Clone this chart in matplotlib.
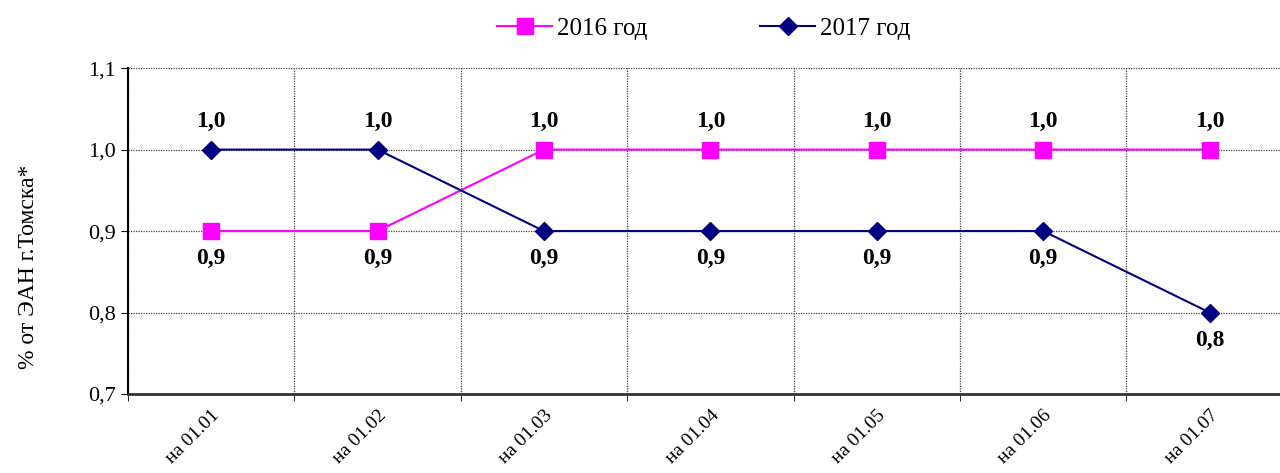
import numpy as np
import matplotlib.pyplot as plt

plt.rcParams['font.family'] = ['Liberation Serif', 'DejaVu Serif']

categories = ["на 01.01", "на 01.02", "на 01.03", "на 01.04", "на 01.05", "на 01.06", "на 01.07"]
vals_2016 = [0.9, 0.9, 1.0, 1.0, 1.0, 1.0, 1.0]
vals_2017 = [1.0, 1.0, 0.9, 0.9, 0.9, 0.9, 0.8]
yticks = [0.7, 0.8, 0.9, 1.0, 1.1]

fig = plt.figure(figsize=(12.8, 4.73), dpi=100)
ax = fig.add_axes([0.1, 0.167, 0.910, 0.689])

x = np.arange(len(categories))
ax.plot(x, vals_2016, color="#FF00FF", marker="s", markersize=11, lw=1.5,
        label="2016 год", zorder=3)
ax.plot(x, vals_2017, color="#000080", marker="D", markersize=9, lw=1.5,
        label="2017 год", zorder=3)

# data labels: above for the higher value, below otherwise
for xi, a, b in zip(x, vals_2016, vals_2017):
    for v, other in ((a, b), (b, a)):
        off = 20 if v >= other else -20
        ax.annotate(f"{v:.1f}".replace(".", ","), (xi, v), xytext=(0, off),
                    textcoords="offset points", ha="center", va="center",
                    fontsize=17, fontweight="bold")

ax.set_xlim(-0.5, len(categories) - 0.5)
ax.set_ylim(0.7, 1.1)
ax.set_yticks(yticks)
ax.set_yticklabels([f"{t:.1f}".replace(".", ",") for t in yticks], fontsize=16)
ax.set_xticks(x)
ax.set_xticklabels(categories, rotation=45, ha="right", rotation_mode="anchor",
                   fontsize=14)
ax.set_xticks(np.arange(-0.5, len(categories)), minor=True)
ax.tick_params(axis="x", which="major", length=0, pad=9)
ax.tick_params(axis="x", which="minor", length=5)
ax.tick_params(axis="y", length=5)

ax.grid(axis="y", which="major", ls=(0, (1, 1)), color="#444444", lw=0.9)
ax.grid(axis="x", which="minor", ls=(0, (1, 1)), color="#444444", lw=0.9)
for s in ("top", "right"):
    ax.spines[s].set_visible(False)
ax.spines["left"].set_linewidth(1.5)
ax.spines["bottom"].set_linewidth(2)
ax.spines["bottom"].set_color("#333333")

ax.set_ylabel("% от ЭАН г.Томска*", fontsize=17)
ax.yaxis.set_label_coords(-0.076, 0.39)

fig.legend(loc="center", bbox_to_anchor=(0.55, 0.94), ncol=2, frameon=False,
           fontsize=18, handlelength=2.2, columnspacing=4.5, handletextpad=0.2)

fig.savefig("out.png", dpi=100)
